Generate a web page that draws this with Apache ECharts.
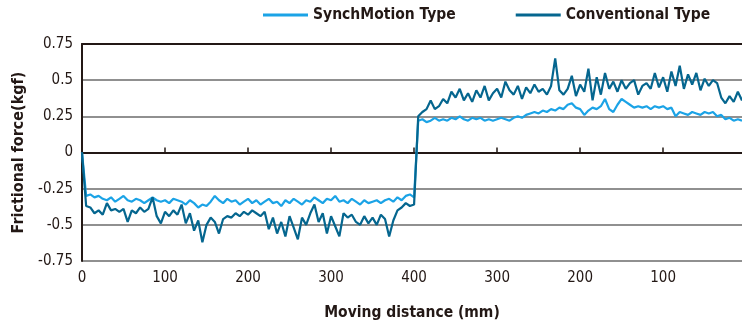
<!DOCTYPE html>
<html><head><meta charset="utf-8">
<script src="https://cdn.jsdelivr.net/npm/echarts@6/dist/echarts.min.js"></script>
<style>html,body{margin:0;padding:0;background:#fff}#c{width:742px;height:322px}</style>
</head><body><div id="c"></div>
<script>
// sampling grid: one reading every 5 mm of travel (0..400 forward, then back)
const stepMm = 5;
const xTickValues = [0, 100, 200, 300, 400, 500, 600, 700];
const xTickLabels = ['0', '100', '200', '300', '400', '300', '200', '100'];
const seriesNames = ['SynchMotion Type', 'Conventional Type'];

const synchMotion = [
  0, -0.30, -0.29, -0.31, -0.30, -0.32, -0.33, -0.31, -0.34, -0.32,
  -0.30, -0.33, -0.34, -0.32, -0.33, -0.35, -0.33, -0.31, -0.33, -0.34,
  -0.33, -0.35, -0.32, -0.33, -0.34, -0.36, -0.33, -0.35, -0.38, -0.36,
  -0.37, -0.34, -0.30, -0.33, -0.35, -0.32, -0.34, -0.33, -0.36, -0.34,
  -0.32, -0.35, -0.33, -0.36, -0.34, -0.32, -0.35, -0.34, -0.37, -0.33,
  -0.35, -0.32, -0.34, -0.36, -0.33, -0.34, -0.31, -0.33, -0.35, -0.32,
  -0.33, -0.30, -0.34, -0.33, -0.35, -0.32, -0.34, -0.36, -0.33, -0.35,
  -0.34, -0.33, -0.35, -0.33, -0.32, -0.34, -0.31, -0.33, -0.30, -0.29,
  -0.31,
  0.22, 0.23, 0.21, 0.22, 0.24, 0.22, 0.23, 0.22, 0.24, 0.23,
  0.25, 0.23, 0.22, 0.24, 0.23, 0.24, 0.22, 0.23, 0.22, 0.23,
  0.24, 0.23, 0.22, 0.24, 0.25, 0.24, 0.26, 0.27, 0.28, 0.27,
  0.29, 0.28, 0.30, 0.29, 0.31, 0.30, 0.33, 0.34, 0.31, 0.30,
  0.26, 0.29, 0.31, 0.30, 0.32, 0.37, 0.30, 0.28, 0.33, 0.37,
  0.35, 0.33, 0.31, 0.32, 0.31, 0.32, 0.30, 0.32, 0.31, 0.32,
  0.30, 0.31, 0.25, 0.28, 0.27, 0.26, 0.28, 0.27, 0.26, 0.28,
  0.27, 0.28, 0.25, 0.26, 0.23, 0.24, 0.22, 0.23, 0.22
];

const conventional = [
  0, -0.37, -0.38, -0.42, -0.40, -0.43, -0.35, -0.40, -0.39, -0.41,
  -0.39, -0.48, -0.40, -0.42, -0.38, -0.41, -0.39, -0.31, -0.44, -0.49,
  -0.41, -0.44, -0.40, -0.43, -0.36, -0.49, -0.42, -0.54, -0.47, -0.62,
  -0.50, -0.45, -0.48, -0.56, -0.46, -0.44, -0.45, -0.42, -0.44, -0.41,
  -0.43, -0.40, -0.42, -0.44, -0.41, -0.53, -0.45, -0.56, -0.48, -0.58,
  -0.44, -0.52, -0.60, -0.45, -0.50, -0.42, -0.36, -0.48, -0.42, -0.56,
  -0.44, -0.51, -0.58, -0.42, -0.45, -0.43, -0.48, -0.50, -0.44, -0.49,
  -0.45, -0.50, -0.43, -0.46, -0.58, -0.47, -0.40, -0.38, -0.35, -0.37,
  -0.36,
  0.25, 0.28, 0.30, 0.36, 0.30, 0.32, 0.37, 0.34, 0.42, 0.38,
  0.44, 0.36, 0.41, 0.35, 0.43, 0.38, 0.46, 0.36, 0.41, 0.44,
  0.38, 0.49, 0.43, 0.40, 0.46, 0.37, 0.45, 0.41, 0.47, 0.42,
  0.44, 0.40, 0.46, 0.65, 0.43, 0.40, 0.44, 0.53, 0.39, 0.47,
  0.42, 0.58, 0.36, 0.52, 0.40, 0.55, 0.44, 0.49, 0.42, 0.50,
  0.44, 0.48, 0.50, 0.40, 0.46, 0.48, 0.44, 0.55, 0.45, 0.52,
  0.42, 0.56, 0.46, 0.60, 0.44, 0.54, 0.47, 0.55, 0.43, 0.51,
  0.46, 0.50, 0.48, 0.38, 0.34, 0.39, 0.35, 0.42, 0.36
];

const FONT = "'Liberation Sans Narrow','DejaVu Sans Condensed','Roboto',sans-serif";
const pairs = arr => arr.map((v, i) => [i * stepMm, v]);
const labelFor = v => { const k = xTickValues.indexOf(v); return k >= 0 ? xTickLabels[k] : ''; };

const chart = echarts.init(document.getElementById('c'), null, {renderer: 'canvas'});
chart.setOption({
  animation: false,
  backgroundColor: '#fff',
  color: ['#1ba3e6', '#05668f'],
  legend: {
    orient: 'horizontal', left: 263, top: 7, width: 479, padding: 0,
    icon: 'rect', itemWidth: 45, itemHeight: 3, itemGap: 60,
    textStyle: {fontFamily: FONT, fontWeight: 'bold', fontSize: 15.5, color: '#231815'},
    data: seriesNames
  },
  grid: {left: 82, right: 0, top: 44, bottom: 61, containLabel: false, outerBoundsMode: 'none'},
  xAxis: [{
    type: 'value', min: 0, max: 795, interval: 100,
    axisLine: {lineStyle: {color: '#231815', width: 2}},
    axisTick: {inside: true, length: 5, customValues: xTickValues, lineStyle: {color: '#231815', width: 1.5}},
    axisLabel: {customValues: xTickValues, formatter: labelFor, margin: 10, fontFamily: FONT, fontSize: 15, color: '#231815'},
    splitLine: {show: false},
    name: 'Moving distance (mm)', nameLocation: 'middle', nameGap: 44,
    nameTextStyle: {fontFamily: FONT, fontWeight: 'bold', fontSize: 15.5, color: '#231815'}
  }, {
    type: 'value', position: 'top', min: 0, max: 795,
    axisLine: {show: true, lineStyle: {color: '#231815', width: 2}},
    axisTick: {show: false}, axisLabel: {show: false}, splitLine: {show: false}
  }],
  yAxis: {
    type: 'value', min: -0.75, max: 0.75, interval: 0.25,
    axisLine: {show: true, lineStyle: {color: '#231815', width: 2}},
    axisTick: {show: false},
    axisLabel: {margin: 9, fontFamily: FONT, fontSize: 15, color: '#231815'},
    splitLine: {lineStyle: {color: '#6b6b6b', width: 1.5}},
    name: 'Frictional force(kgf)', nameLocation: 'middle', nameGap: 53, nameRotate: 90,
    nameTextStyle: {fontFamily: FONT, fontWeight: 'bold', fontSize: 16, color: '#231815'}
  },
  series: [
    {name: seriesNames[0], type: 'line', showSymbol: false, data: pairs(synchMotion), lineStyle: {width: 2.2}},
    {name: seriesNames[1], type: 'line', showSymbol: false, data: pairs(conventional), lineStyle: {width: 2.2}}
  ]
});
</script></body></html>
